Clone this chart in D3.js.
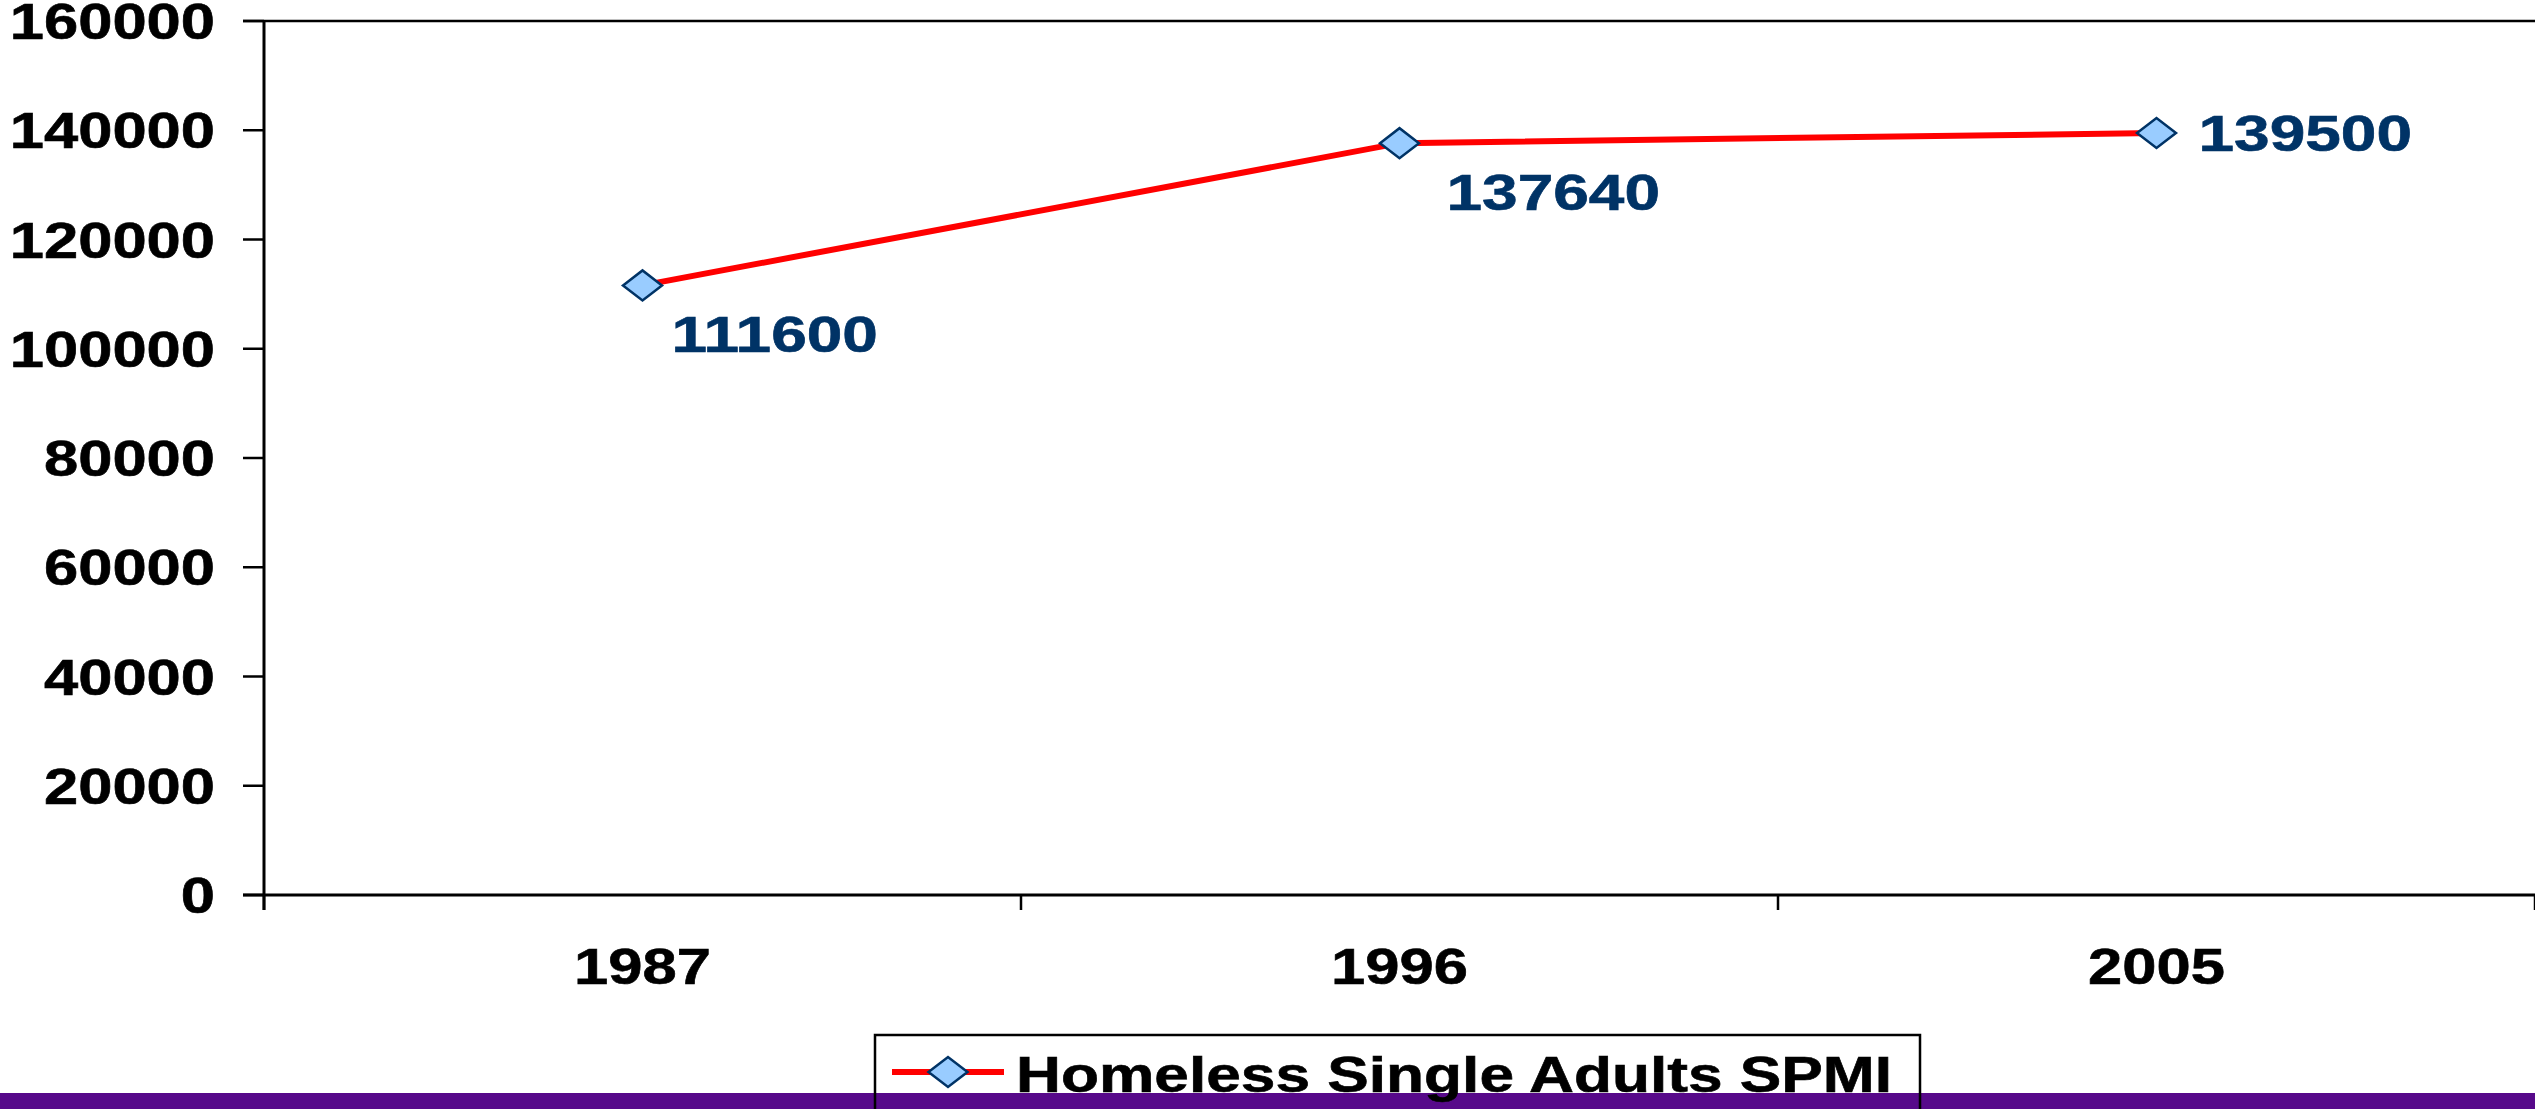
<!DOCTYPE html>
<html><head><meta charset="utf-8">
<script src="https://cdn.jsdelivr.net/npm/d3@7"></script>
<style>
html,body{margin:0;padding:0;background:#fff;overflow:hidden}
svg{display:block}
text{font-family:"Liberation Sans",Arial,sans-serif;font-weight:bold}
</style></head>
<body>
<svg id="c" width="2535" height="1109"></svg>
<script>
const years = ["1987","1996","2005"];
const values = [111600,137640,139500];
const yTicks = [0,20000,40000,60000,80000,100000,120000,140000,160000];
const seriesName = "Homeless Single Adults SPMI";

(function(){
const W=2535,H=1109;
const FS=50;
const pL=264, pR=2535, pT=21, pB=895;
const svg=d3.select("#c");

const x=d3.scaleBand().domain(years).range([pL,pR]).paddingInner(0).paddingOuter(0);
const y=d3.scaleLinear().domain([0,160000]).range([pB,pT]);
const cx=d=>x(d)+x.bandwidth()/2;

function stext(g,tx,ty,str,anchor,fill,sx){
  const c=fill||"#000";
  return g.append("text").attr("transform",`translate(${tx},${ty}) scale(${sx||1.23},1)`)
    .attr("text-anchor",anchor).attr("fill",c).attr("stroke",c).attr("stroke-width",0.6)
    .attr("font-size",FS).text(str);
}

// purple bar
svg.append("rect").attr("x",0).attr("y",1093).attr("width",W).attr("height",H-1093).attr("fill","#57098A");

// top border
svg.append("line").attr("x1",pL-21).attr("x2",pR).attr("y1",y(160000)).attr("y2",y(160000))
  .attr("stroke","#000").attr("stroke-width",2.5);

// y axis
const ga=svg.append("g");
ga.append("line").attr("x1",pL).attr("x2",pL).attr("y1",pT).attr("y2",pB+15).attr("stroke","#000").attr("stroke-width",3);
yTicks.forEach(t=>{
  ga.append("line").attr("x1",pL-21).attr("x2",pL).attr("y1",y(t)).attr("y2",y(t)).attr("stroke","#000").attr("stroke-width",2.5);
  stext(ga,215,y(t)+18,String(t),"end");
});
// x axis
ga.append("line").attr("x1",pL-21).attr("x2",pR).attr("y1",pB).attr("y2",pB).attr("stroke","#000").attr("stroke-width",3);
const bounds=years.map(d=>x(d)).concat([x(years[years.length-1])+x.bandwidth()]);
bounds.forEach(b=>{
  ga.append("line").attr("x1",b).attr("x2",b).attr("y1",pB).attr("y2",pB+15).attr("stroke","#000").attr("stroke-width",2.5);
});
years.forEach(d=>stext(ga,cx(d),984,d,"middle"));

// line
const line=d3.line().x((v,i)=>cx(years[i])).y(v=>y(v));
svg.append("path").datum(values).attr("d",line).attr("fill","none").attr("stroke","#FF0000").attr("stroke-width",6);

const diamond="M-19.5,0L0,-15L19.5,0L0,15Z";
svg.selectAll(".pt").data(values).enter().append("path").attr("class","pt")
  .attr("transform",(v,i)=>`translate(${cx(years[i])},${y(v)})`)
  .attr("d",diamond).attr("fill","#99CCFF").attr("stroke","#003366").attr("stroke-width",2.5);

// data labels: below-right except last (right)
values.forEach((v,i)=>{
  const px=cx(years[i]), py=y(v);
  if(i===values.length-1) stext(svg,px+42,py+18,String(v),"start","#003366",1.28);
  else stext(svg,px+29+18*i,py+67,String(v),"start","#003366",1.28);
});

// legend
const lg=svg.append("g");
lg.append("rect").attr("x",875).attr("y",1035).attr("width",1045).attr("height",120).attr("fill","none").attr("stroke","#000").attr("stroke-width",2.5);
lg.append("line").attr("x1",892).attr("x2",1004).attr("y1",1072).attr("y2",1072).attr("stroke","#FF0000").attr("stroke-width",6);
lg.append("path").attr("transform","translate(948,1072)").attr("d",diamond).attr("fill","#99CCFF").attr("stroke","#003366").attr("stroke-width",2.5);
stext(lg,1016,1092,seriesName,"start","#000",1.245);
})();
</script>
</body></html>
